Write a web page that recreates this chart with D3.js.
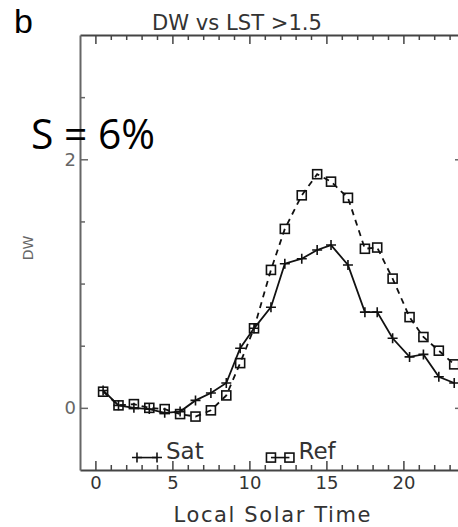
<!DOCTYPE html>
<html>
<head>
<meta charset="utf-8">
<script src="https://cdn.jsdelivr.net/npm/d3@7"></script>
<style>
  body { margin: 0; background: #fff; }
  svg { display: block; }
  .idl { font-family: "DejaVu Sans", sans-serif; }
</style>
</head>
<body>
<div id="chart"></div>
<script>
// local solar time of each bin (hours)
const hours = [0.5, 1.5, 2.5, 3.5, 4.5, 5.5, 6.5, 7.5, 8.5, 9.4, 10.3, 11.4,
  12.3, 13.4, 14.4, 15.3, 16.4, 17.5, 18.3, 19.3, 20.4, 21.3, 22.3, 23.3];
const satValues = [0.14, 0.02, 0.0, -0.01, -0.04, -0.03, 0.06, 0.12, 0.2, 0.48, 0.64, 0.81,
  1.16, 1.2, 1.27, 1.31, 1.15, 0.77, 0.77, 0.56, 0.41, 0.43, 0.25, 0.2];
const refValues = [0.13, 0.02, 0.03, 0.0, -0.01, -0.05, -0.07, -0.02, 0.1, 0.36, 0.64, 1.11,
  1.44, 1.71, 1.88, 1.82, 1.69, 1.28, 1.29, 1.04, 0.73, 0.57, 0.46, 0.35];
const xTickLabels = [0, 5, 10, 15, 20];
const yTickLabels = [0, 2];
const legendNames = ["Sat", "Ref"];

const width = 458;
const height = 527;
const margin = { top: 35, right: -7, bottom: 57, left: 80 };
const axisColor = "#666";
const textColor = "#333";

const svg = d3.select("#chart").append("svg")
  .attr("width", width)
  .attr("height", height);

const x = d3.scaleLinear().domain([-1, 24]).range([margin.left, width - margin.right]);
const y = d3.scaleLinear().domain([-0.5, 3]).range([height - margin.bottom, margin.top]);

const minorX = d3.range(0, 25, 1).filter((d) => d % 5 !== 0);
const minorY = d3.range(-0.5, 3.01, 0.5).filter((d) => !yTickLabels.includes(d) && d > -0.5 && d < 3);

function styleAxis(g, color) {
  g.select(".domain").attr("stroke", color).attr("stroke-width", 2);
  g.selectAll(".tick line").attr("stroke", color).attr("stroke-width", 1.5);
}

// bottom axis
const xBottom = svg.append("g")
  .attr("class", "idl")
  .attr("transform", `translate(0,${y(-0.5)})`)
  .call(d3.axisBottom(x).tickValues(xTickLabels).tickSizeInner(-9).tickSizeOuter(0).tickPadding(6).tickFormat(d3.format("d")));
styleAxis(xBottom, "#444");
xBottom.selectAll("text").attr("font-size", 18).attr("fill", textColor).attr("font-family", "DejaVu Sans");
svg.append("g")
  .attr("transform", `translate(0,${y(-0.5)})`)
  .call(d3.axisBottom(x).tickValues(minorX).tickSize(-5).tickFormat(""))
  .call((g) => { styleAxis(g, "#444"); g.select(".domain").remove(); });

// top axis
const xTop = svg.append("g")
  .attr("transform", `translate(0,${y(3)})`)
  .call(d3.axisTop(x).tickValues(xTickLabels).tickSizeInner(-9).tickSizeOuter(0).tickFormat(""));
styleAxis(xTop, "#444");
svg.append("g")
  .attr("transform", `translate(0,${y(3)})`)
  .call(d3.axisTop(x).tickValues(minorX).tickSize(-5).tickFormat(""))
  .call((g) => { styleAxis(g, "#444"); g.select(".domain").remove(); });

// left axis
const yLeft = svg.append("g")
  .attr("transform", `translate(${x(-1)},0)`)
  .call(d3.axisLeft(y).tickValues(yTickLabels).tickSizeInner(-8).tickSizeOuter(0).tickPadding(4).tickFormat(d3.format("d")));
styleAxis(yLeft, axisColor);
yLeft.selectAll("text").attr("font-size", 18).attr("fill", "#666").attr("font-family", "DejaVu Sans");
svg.append("g")
  .attr("transform", `translate(${x(-1)},0)`)
  .call(d3.axisLeft(y).tickValues(minorY).tickSize(-5).tickFormat(""))
  .call((g) => { styleAxis(g, axisColor); g.select(".domain").remove(); });

// right axis
const yRight = svg.append("g")
  .attr("transform", `translate(${x(24)},0)`)
  .call(d3.axisRight(y).tickValues(yTickLabels).tickSizeInner(-10).tickSizeOuter(0).tickFormat(""));
styleAxis(yRight, axisColor);
svg.append("g")
  .attr("transform", `translate(${x(24)},0)`)
  .call(d3.axisRight(y).tickValues(minorY).tickSize(-6).tickFormat(""))
  .call((g) => { styleAxis(g, axisColor); g.select(".domain").remove(); });

const satData = hours.map((h, i) => ({ h, v: satValues[i] }));
const refData = hours.map((h, i) => ({ h, v: refValues[i] }));

const line = d3.line().x((d) => x(d.h)).y((d) => y(d.v));

// Ref: dashed line with squares
svg.append("path")
  .datum(refData)
  .attr("fill", "none")
  .attr("stroke", "#111")
  .attr("stroke-width", 1.8)
  .attr("stroke-dasharray", "6,5")
  .attr("d", line);

const sq = 9;
function drawSquares(sel, data, xs, ys) {
  sel.selectAll(null)
    .data(data)
    .enter()
    .append("rect")
    .attr("x", (d) => xs(d) - sq / 2)
    .attr("y", (d) => ys(d) - sq / 2)
    .attr("width", sq)
    .attr("height", sq)
    .attr("fill", "none")
    .attr("stroke", "#111")
    .attr("stroke-width", 1.6);
}
drawSquares(svg.append("g"), refData, (d) => x(d.h), (d) => y(d.v));

// Sat: solid line with plus markers
svg.append("path")
  .datum(satData)
  .attr("fill", "none")
  .attr("stroke", "#111")
  .attr("stroke-width", 1.8)
  .attr("d", line);

function drawPlus(sel, data, xs, ys) {
  sel.selectAll(null)
    .data(data)
    .enter()
    .append("path")
    .attr("transform", (d) => `translate(${xs(d)},${ys(d)})`)
    .attr("d", "M-5,0H5M0,-5V5")
    .attr("stroke", "#111")
    .attr("stroke-width", 1.6);
}
drawPlus(svg.append("g"), satData, (d) => x(d.h), (d) => y(d.v));

// legend inside the plot, near the bottom
const legendY = y(-0.4);
const satLegend = [2.7, 4.0];
const refLegend = [11.4, 12.6];
svg.append("line")
  .attr("x1", x(satLegend[0])).attr("x2", x(satLegend[1]))
  .attr("y1", legendY).attr("y2", legendY)
  .attr("stroke", "#111").attr("stroke-width", 1.6);
drawPlus(svg.append("g"), satLegend, (d) => x(d), () => legendY);
svg.append("line")
  .attr("x1", x(refLegend[0])).attr("x2", x(refLegend[1]))
  .attr("y1", legendY).attr("y2", legendY)
  .attr("stroke", "#111").attr("stroke-width", 1.6);
drawSquares(svg.append("g"), refLegend, (d) => x(d), () => legendY);

svg.append("text")
  .attr("class", "idl")
  .attr("x", x(satLegend[1]) + 9)
  .attr("y", legendY + 1)
  .attr("font-size", 23)
  .attr("fill", textColor)
  .text(legendNames[0]);
svg.append("text")
  .attr("class", "idl")
  .attr("x", x(refLegend[1]) + 9)
  .attr("y", legendY + 1)
  .attr("font-size", 23)
  .attr("fill", textColor)
  .text(legendNames[1]);

// titles
svg.append("text")
  .attr("class", "idl")
  .attr("x", 237)
  .attr("y", 30)
  .attr("text-anchor", "middle")
  .attr("font-size", 22)
  .attr("fill", textColor)
  .attr("textLength", 170)
  .attr("lengthAdjust", "spacingAndGlyphs")
  .text("DW vs LST >1.5");

svg.append("text")
  .attr("class", "idl")
  .attr("x", 272)
  .attr("y", 522)
  .attr("text-anchor", "middle")
  .attr("font-size", 21)
  .attr("fill", textColor)
  .attr("textLength", 197)
  .attr("lengthAdjust", "spacing")
  .text("Local Solar Time");

svg.append("text")
  .attr("class", "idl")
  .attr("transform", "translate(33,248) rotate(-90)")
  .attr("text-anchor", "middle")
  .attr("font-size", 14)
  .attr("fill", "#666")
  .text("DW");

svg.append("text")
  .attr("x", 14)
  .attr("y", 33)
  .attr("font-family", "Liberation Sans, Arial, sans-serif")
  .attr("font-size", 34)
  .attr("fill", "#000")
  .text("b");

svg.append("text")
  .attr("x", 31)
  .attr("y", 149)
  .attr("font-family", "Open Sans, sans-serif")
  .attr("font-size", 42)
  .attr("fill", "#000")
  .attr("textLength", 124)
  .attr("lengthAdjust", "spacingAndGlyphs")
  .text("S = 6%");
</script>
</body>
</html>
